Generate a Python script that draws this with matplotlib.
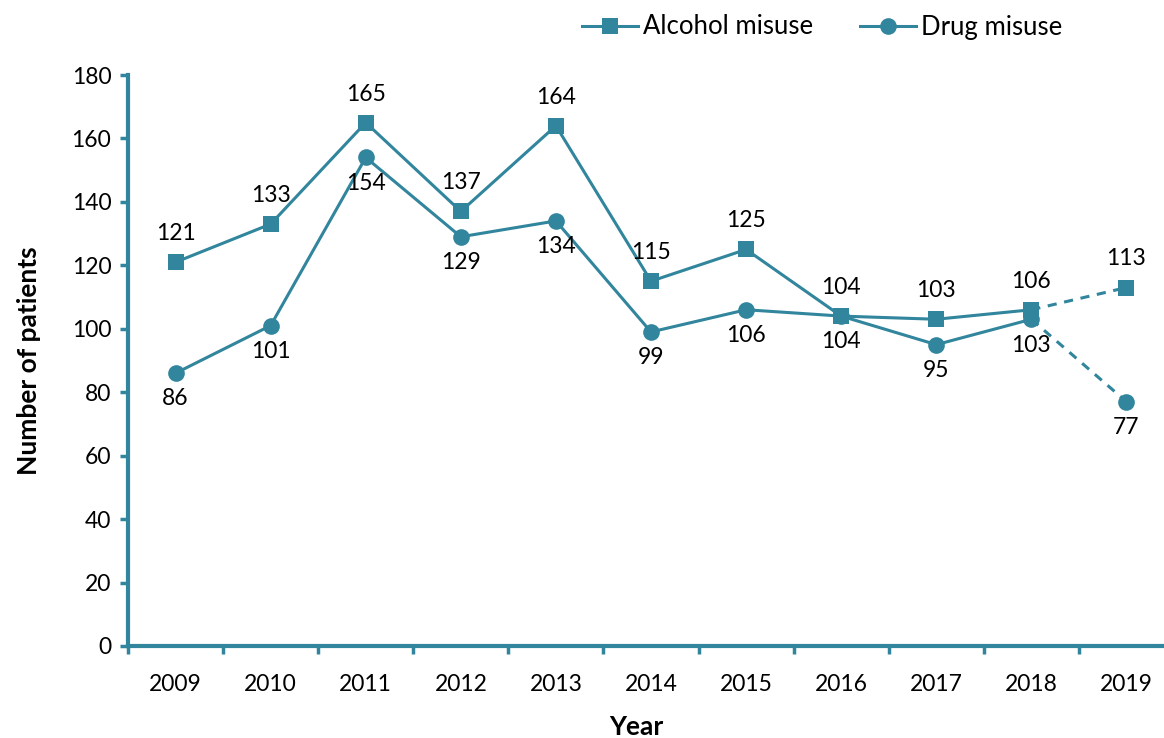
import matplotlib
matplotlib.use("Agg")
import matplotlib.pyplot as plt
from matplotlib.lines import Line2D

years = ["2009", "2010", "2011", "2012", "2013", "2014", "2015", "2016", "2017", "2018", "2019"]
alcohol = [121, 133, 165, 137, 164, 115, 125, 104, 103, 106, 113]
drug = [86, 101, 154, 129, 134, 99, 106, 104, 95, 103, 77]
yticks = [0, 20, 40, 60, 80, 100, 120, 140, 160, 180]

color = "#31859C"
plt.rcParams['font.family'] = ['Lato', 'DejaVu Sans']

fig = plt.figure(figsize=(11.64, 7.38), dpi=100)
ax = fig.add_axes([128/1164, 92/738, 1046/1164, 571/738])

x = list(range(len(years)))
n = len(years) - 1  # last point is dashed segment
for vals, mk in [(alcohol, 's'), (drug, 'o')]:
    ax.plot(x[:n], vals[:n], color=color, lw=2.2, marker=mk, ms=12, mew=0, zorder=3)
    ax.plot(x[n-1:], vals[n-1:], color=color, lw=2.2, ls=(0, (3, 2.5)), zorder=2)
    ax.plot(x[n:], vals[n:], color=color, lw=0, marker=mk, ms=12, mew=0, zorder=3)

for i in x:
    ax.annotate(str(alcohol[i]), (i, alcohol[i]), xytext=(0, 13), textcoords='offset points',
                ha='center', va='bottom', fontsize=16.5)
    ax.annotate(str(drug[i]), (i, drug[i]), xytext=(0, -11), textcoords='offset points',
                ha='center', va='top', fontsize=16.5)

ax.set_xlim(-0.5, 10.5)
ax.set_ylim(0, 180)
ax.set_yticks(yticks)
ax.set_yticklabels([str(v) for v in yticks], fontsize=16.5)
ax.set_xticks([i - 0.5 for i in range(len(years) + 1)])
ax.set_xticklabels([])
ax.set_xticks(x, minor=True)
ax.set_xticklabels(years, minor=True, fontsize=16.5)
ax.tick_params(axis='x', which='minor', length=0, pad=20)
ax.tick_params(axis='x', which='major', length=6, width=2.5, color=color, direction='out')
ax.tick_params(axis='y', length=6, width=2.5, color=color, direction='out', pad=6)

for s in ['top', 'right']:
    ax.spines[s].set_visible(False)
for s in ['left', 'bottom']:
    ax.spines[s].set_color(color)
    ax.spines[s].set_linewidth(3)

ax.set_ylabel("Number of patients", fontsize=19, fontweight='bold', labelpad=22)
fig.text(636/1164, 1 - 727/738, "Year", fontsize=19, fontweight='bold', ha='center', va='center')

handles = [Line2D([], [], color=color, lw=2.2, marker='s', ms=12, mew=0),
           Line2D([], [], color=color, lw=2.2, marker='o', ms=12, mew=0)]
fig.legend(handles, ["Alcohol misuse", "Drug misuse"], loc='center', bbox_to_anchor=(822/1164, 1 - 27/738),
           ncol=2, frameon=False, fontsize=18.5, handlelength=2.2, handletextpad=0.2, columnspacing=1.8)

fig.savefig("out.png", dpi=100)
